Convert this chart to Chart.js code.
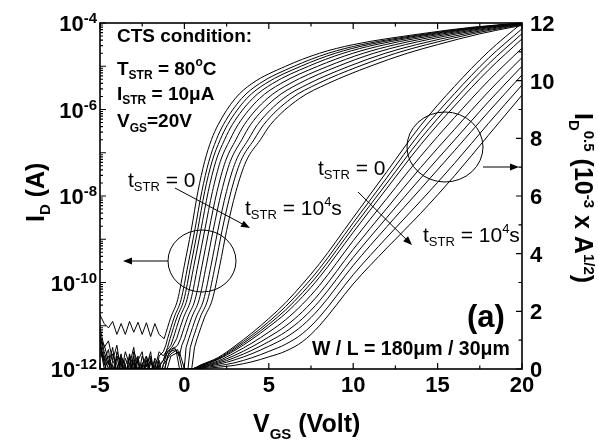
<!DOCTYPE html>
<html>
<head>
<meta charset="utf-8">
<script src="https://cdn.jsdelivr.net/npm/chart.js@4.4.1/dist/chart.umd.min.js"></script>
<style>
  html, body { margin: 0; padding: 0; background: #fff; }
  #wrap { width: 598px; height: 440px; }
</style>
</head>
<body>
<div id="wrap"><canvas id="transfer" width="598" height="440"></canvas></div>
<script>
// 10 curves, t_STR = 0 (first) ... 10^4 s (last)

// log branch: V_GS where each curve crosses these levels of log10(I_D)
const riseLevels = [-11.3, -10.8, -10.4, -9.6, -8.8, -7.9, -7.2, -6.7, -6.35, -5.75, -5.4, -5.0, -4.7, -4.5, -4.25, -4.1, -4.0];
const riseV = [
  [-1.2, -0.8, -0.4, 0, 0.4, 0.8, 1.2, 1.6, 2.0, 3, 4, 6, 8, 10, 14, 17, 20],
  [-1.0, -0.6, -0.2, 0.21, 0.61, 1.03, 1.45, 1.89, 2.31, 3.38, 4.45, 6.5, 8.52, 10.5, 14.35, 17.24, 20.08],
  [-0.85, -0.44, -0.03, 0.38, 0.78, 1.2, 1.64, 2.12, 2.56, 3.68, 4.81, 6.9, 8.94, 10.9, 14.63, 17.43, 20.14],
  [-0.67, -0.26, 0.15, 0.57, 0.97, 1.41, 1.86, 2.38, 2.84, 4.03, 5.22, 7.35, 9.4, 11.35, 14.95, 17.65, 20.22],
  [-0.46, -0.04, 0.38, 0.8, 1.2, 1.66, 2.13, 2.7, 3.18, 4.44, 5.71, 7.9, 9.98, 11.9, 15.33, 17.91, 20.3],
  [-0.23, 0.2, 0.63, 1.05, 1.45, 1.93, 2.43, 3.05, 3.55, 4.9, 6.25, 8.5, 10.6, 12.5, 15.75, 18.2, 20.4],
  [0.01, 0.44, 0.87, 1.3, 1.7, 2.2, 2.72, 3.4, 3.92, 5.36, 6.79, 9.1, 11.22, 13.1, 16.17, 18.49, 20.5],
  [0.26, 0.7, 1.14, 1.58, 1.98, 2.49, 3.04, 3.78, 4.33, 5.85, 7.38, 9.75, 11.9, 13.75, 16.63, 18.8, 20.6],
  [0.5, 0.94, 1.38, 1.83, 2.23, 2.76, 3.33, 4.12, 4.7, 6.31, 7.92, 10.35, 12.52, 14.35, 17.05, 19.09, 20.7],
  [0.75, 1.2, 1.65, 2.1, 2.5, 3.05, 3.65, 4.5, 5.1, 6.8, 8.5, 11, 13.2, 15, 17.5, 19.4, 20.8]
];

// off-state noise floor, log10(I_D) at noiseV
const noiseV = [-5, -4.75, -4.5, -4.25, -4, -3.75, -3.5, -3.25, -3, -2.75, -2.5, -2.25, -2, -1.75, -1.5];
const noiseLog = [
  [-10.75, -10.95, -11.05, -10.9, -11.2, -10.95, -11.2, -10.9, -11.15, -10.92, -11.2, -10.93, -11.25, -10.95, -11.2],
  [-11.05, -11.5, -11.35, -11.8, -11.45, -12.1, -11.6, -11.9, -11.5, -12.2, -11.7, -11.95, -11.6, -12.3, -11.7],
  [-11.2, -11.6, -11.9, -11.5, -12.2, -11.7, -11.95, -12.3, -11.6, -11.85, -12.25, -11.7, -12.1, -11.75, -11.9],
  [-11.3, -11.45, -11.8, -12.3, -11.6, -11.9, -12.2, -11.7, -12.3, -11.8, -11.6, -12.3, -11.85, -12.0, -11.6],
  [-11.25, -11.7, -12.0, -11.65, -11.9, -12.3, -11.75, -12.0, -11.8, -12.3, -11.9, -11.7, -12.2, -11.8, -12.3],
  [-11.4, -11.8, -11.55, -12.25, -11.7, -11.85, -12.3, -11.65, -12.0, -11.75, -12.3, -11.9, -11.7, -12.2, -11.8],
  [-11.35, -11.9, -11.7, -12.0, -12.3, -11.75, -11.9, -12.25, -11.7, -12.3, -11.85, -12.1, -11.75, -12.3, -11.95],
  [-11.5, -11.75, -12.3, -11.8, -12.0, -11.65, -12.3, -11.9, -12.1, -11.7, -12.3, -11.8, -12.25, -11.9, -12.1],
  [-11.45, -12.0, -11.8, -12.3, -11.7, -12.2, -11.9, -11.75, -12.3, -11.95, -12.1, -12.3, -11.8, -12.0, -12.3],
  [-11.6, -11.85, -12.3, -11.9, -12.3, -11.8, -12.1, -12.3, -11.85, -12.2, -11.9, -12.3, -12.0, -12.3, -11.9]
];

// wiggles between the noise floor and the start of each rise [V, log10(I_D)]
const joinPts = [
  [[-1.35, -11.25]],
  [[-1.25, -11.6], [-1.1, -11.45]],
  [[-1.25, -11.8], [-1.0, -11.5]],
  [[-1.25, -11.7], [-1.0, -11.55], [-0.8, -11.45]],
  [[-1.25, -11.9], [-1.0, -11.6], [-0.75, -11.5], [-0.6, -11.4]],
  [[-1.25, -12.2], [-1.0, -11.7], [-0.7, -11.55], [-0.4, -11.45]],
  [[-1.25, -11.8], [-1.0, -11.6], [-0.6, -11.5], [-0.3, -11.7], [-0.15, -11.45]],
  [[-1.25, -12.1], [-0.9, -11.6], [-0.5, -11.55], [-0.1, -12.4], [0.1, -11.5]],
  [[-1.25, -11.9], [-0.8, -11.65], [-0.4, -11.55], [0.1, -12.4], [0.35, -11.5]],
  [[-1.25, -12.3], [-0.8, -11.7], [-0.3, -11.6], [0.3, -12.4], [0.6, -11.5]]
];

// sqrt branch, I_D^0.5 in 10^-3 A^1/2
const sqrtV = [-5, 0.4, 1, 2, 3, 4, 5, 6, 7, 8, 10, 12, 14, 16, 18, 20];
const sqrtVals = [
  [0, 0, 0.15, 0.4, 0.8, 1.25, 1.75, 2.3, 2.95, 3.65, 5.25, 6.85, 8.45, 9.8, 11.0, 12.0],
  [0, 0, 0.14, 0.37, 0.75, 1.17, 1.64, 2.17, 2.79, 3.48, 5.07, 6.64, 8.21, 9.55, 10.77, 11.8],
  [0, 0, 0.13, 0.35, 0.7, 1.1, 1.55, 2.05, 2.65, 3.33, 4.91, 6.45, 7.99, 9.34, 10.57, 11.63],
  [0, 0, 0.12, 0.33, 0.65, 1.03, 1.46, 1.93, 2.51, 3.18, 4.74, 6.27, 7.78, 9.12, 10.36, 11.45],
  [0, 0, 0.1, 0.28, 0.57, 0.9, 1.28, 1.71, 2.25, 2.9, 4.45, 5.92, 7.38, 8.72, 9.99, 11.13],
  [0, 0, 0.09, 0.24, 0.48, 0.77, 1.11, 1.49, 1.99, 2.62, 4.15, 5.58, 6.99, 8.31, 9.61, 10.8],
  [0, 0, 0.07, 0.2, 0.4, 0.65, 0.95, 1.29, 1.75, 2.36, 3.87, 5.26, 6.62, 7.94, 9.26, 10.5],
  [0, 0, 0.06, 0.16, 0.32, 0.53, 0.79, 1.09, 1.51, 2.1, 3.59, 4.94, 6.25, 7.57, 8.91, 10.2],
  [0, 0, 0.04, 0.11, 0.22, 0.39, 0.61, 0.86, 1.23, 1.8, 3.27, 4.57, 5.83, 7.13, 8.51, 9.85],
  [0, 0, 0.02, 0.06, 0.13, 0.25, 0.42, 0.62, 0.95, 1.5, 2.95, 4.2, 5.4, 6.7, 8.1, 9.5]
];

const xTicks = [-5, 0, 5, 10, 15, 20];
const leftTickExp = [-4, -6, -8, -10, -12];
const rightTicks = [0, 2, 4, 6, 8, 10, 12];

const FAM = '"Liberation Sans", Arial, sans-serif';
const B = (s) => "bold " + s + "px " + FAM;
const N = (s) => s + "px " + FAM;

const datasets = [];
for (let k = 0; k < riseV.length; k++) {
  const noise = noiseV.map((v, i) => ({ x: v, y: Math.pow(10, noiseLog[k][i]) }));
  joinPts[k].forEach((p) => noise.push({ x: p[0], y: Math.pow(10, p[1]) }));
  noise.push({ x: riseV[k][0], y: Math.pow(10, riseLevels[0]) });
  datasets.push({ data: noise, yAxisID: "y", tension: 0 });

  const rise = riseV[k].map((v, i) => ({ x: v, y: Math.pow(10, riseLevels[i]) }));
  datasets.push({ data: rise, yAxisID: "y", cubicInterpolationMode: "monotone" });
}
sqrtVals.forEach((vals) => {
  datasets.push({
    data: sqrtV.map((v, i) => ({ x: v, y: vals[i] })),
    yAxisID: "y2",
    cubicInterpolationMode: "monotone",
  });
});

// draws runs of [text, font, dy]
function drawRich(ctx, parts, x, y, align) {
  let w = 0;
  parts.forEach((p) => { ctx.font = p[1]; w += ctx.measureText(p[0]).width; });
  let cx = x;
  if (align === "right") cx = x - w;
  if (align === "center") cx = x - w / 2;
  parts.forEach((p) => {
    ctx.font = p[1];
    ctx.fillText(p[0], cx, y + (p[2] || 0));
    cx += ctx.measureText(p[0]).width;
  });
}

function arrow(ctx, x1, y1, x2, y2) {
  const a = Math.atan2(y2 - y1, x2 - x1);
  ctx.beginPath();
  ctx.moveTo(x1, y1);
  ctx.lineTo(x2 - 6 * Math.cos(a), y2 - 6 * Math.sin(a));
  ctx.stroke();
  ctx.beginPath();
  ctx.moveTo(x2, y2);
  ctx.lineTo(x2 - 9 * Math.cos(a) + 3.5 * Math.sin(a), y2 - 9 * Math.sin(a) - 3.5 * Math.cos(a));
  ctx.lineTo(x2 - 9 * Math.cos(a) - 3.5 * Math.sin(a), y2 - 9 * Math.sin(a) + 3.5 * Math.cos(a));
  ctx.closePath();
  ctx.fill();
}

const framePlugin = {
  id: "frame",
  afterDraw(chart) {
    const ctx = chart.ctx;
    const a = chart.chartArea;
    const xs = chart.scales.x, ys = chart.scales.y, y2 = chart.scales.y2;
    ctx.save();
    ctx.strokeStyle = "#000";
    ctx.fillStyle = "#000";
    ctx.lineWidth = 1.6;
    ctx.strokeRect(a.left, a.top, a.right - a.left, a.bottom - a.top);

    ctx.lineWidth = 1.2;
    ctx.beginPath();
    for (let v = -5; v <= 20; v += 2.5) {
      const px = xs.getPixelForValue(v);
      const len = v % 5 === 0 ? 6 : 3.5;
      ctx.moveTo(px, a.bottom); ctx.lineTo(px, a.bottom - len);
      ctx.moveTo(px, a.top); ctx.lineTo(px, a.top + len);
    }
    for (let e = -12; e <= -4; e++) {
      for (let m = 1; m <= 9; m++) {
        if (e === -4 && m > 1) break;
        const py = ys.getPixelForValue(m * Math.pow(10, e));
        const len = m === 1 ? 6 : 3;
        ctx.moveTo(a.left, py); ctx.lineTo(a.left + len, py);
      }
    }
    for (let v = 0; v <= 12; v++) {
      const py = y2.getPixelForValue(v);
      const len = v % 2 === 0 ? 6 : 3.5;
      ctx.moveTo(a.right, py); ctx.lineTo(a.right - len, py);
    }
    ctx.stroke();

    ctx.textBaseline = "alphabetic";
    ctx.textAlign = "left";
    xTicks.forEach((v) => drawRich(ctx, [[String(v), B(22)]], xs.getPixelForValue(v), 392, "center"));
    leftTickExp.forEach((e) => {
      const py = ys.getPixelForValue(Math.pow(10, e));
      drawRich(ctx, [["10", B(22)], [String(e), B(15), -8]], a.left - 3, py + 8, "right");
    });
    rightTicks.forEach((v) => drawRich(ctx, [[String(v), B(22)]], a.right + 8, y2.getPixelForValue(v) + 8, "left"));

    // axis titles
    drawRich(ctx, [["V", B(25)], ["GS", B(15), 7], [" (Volt)", B(25)]], 253, 432, "left");
    ctx.save();
    ctx.translate(44, 222);
    ctx.rotate(-Math.PI / 2);
    drawRich(ctx, [["I", B(25)], ["D", B(15), 6], [" (A)", B(25)]], 0, 0, "left");
    ctx.restore();
    ctx.save();
    ctx.translate(575, 113);
    ctx.rotate(Math.PI / 2);
    drawRich(ctx, [["I", B(25)], ["D", B(15), 6], ["0.5", B(15), -9], [" (10", B(25)], ["-3", B(15), -9],
      [" x A", B(25)], ["1/2", B(15), -9], [")", B(25)]], 0, 0, "left");
    ctx.restore();

    // annotations
    drawRich(ctx, [["CTS condition:", B(19)]], 117, 42, "left");
    drawRich(ctx, [["T", B(19)], ["STR", B(12), 4], [" = 80", B(19)], ["o", B(12), -9], ["C", B(19)]], 117, 75, "left");
    drawRich(ctx, [["I", B(19)], ["STR", B(12), 4], [" = 10\u03bcA", B(19)]], 117, 100, "left");
    drawRich(ctx, [["V", B(19)], ["GS", B(12), 5], ["=20V", B(19)]], 117, 127, "left");

    const t0 = [["t", N(21)], ["STR", N(13), 4], [" = 0", N(21)]];
    const t4 = [["t", N(21)], ["STR", N(13), 4], [" = 10", N(21)], ["4", N(13), -9], ["s", N(21)]];
    drawRich(ctx, t0, 128, 187, "left");
    drawRich(ctx, t4, 245, 215, "left");
    drawRich(ctx, t0, 318, 175, "left");
    drawRich(ctx, t4, 423, 242, "left");

    drawRich(ctx, [["(a)", B(31)]], 467, 327, "left");
    drawRich(ctx, [["W / L = 180\u03bcm / 30\u03bcm", B(19.5)]], 312, 355, "left");

    ctx.lineWidth = 1;
    ctx.beginPath();
    ctx.ellipse(202, 261, 34, 31, 0, 0, Math.PI * 2);
    ctx.stroke();
    ctx.beginPath();
    ctx.ellipse(445, 147, 38, 35, 0, 0, Math.PI * 2);
    ctx.stroke();
    arrow(ctx, 168, 261, 123, 261);
    arrow(ctx, 483, 167, 519, 167);
    arrow(ctx, 175, 188, 250, 228);
    arrow(ctx, 358, 192, 412, 245);
    ctx.restore();
  },
};

new Chart(document.getElementById("transfer"), {
  type: "line",
  data: { datasets: datasets },
  options: {
    responsive: false,
    animation: false,
    devicePixelRatio: 1,
    layout: { padding: { left: 100, top: 23, right: 76, bottom: 71 } },
    elements: {
      point: { radius: 0 },
      line: { borderWidth: 1, borderColor: "#000", fill: false },
    },
    scales: {
      x: { type: "linear", min: -5, max: 20, display: false },
      y: { type: "logarithmic", min: 1e-12, max: 1e-4, display: false },
      y2: { type: "linear", min: 0, max: 12, display: false },
    },
    plugins: { legend: { display: false }, tooltip: { enabled: false } },
  },
  plugins: [framePlugin],
});
</script>
</body>
</html>
